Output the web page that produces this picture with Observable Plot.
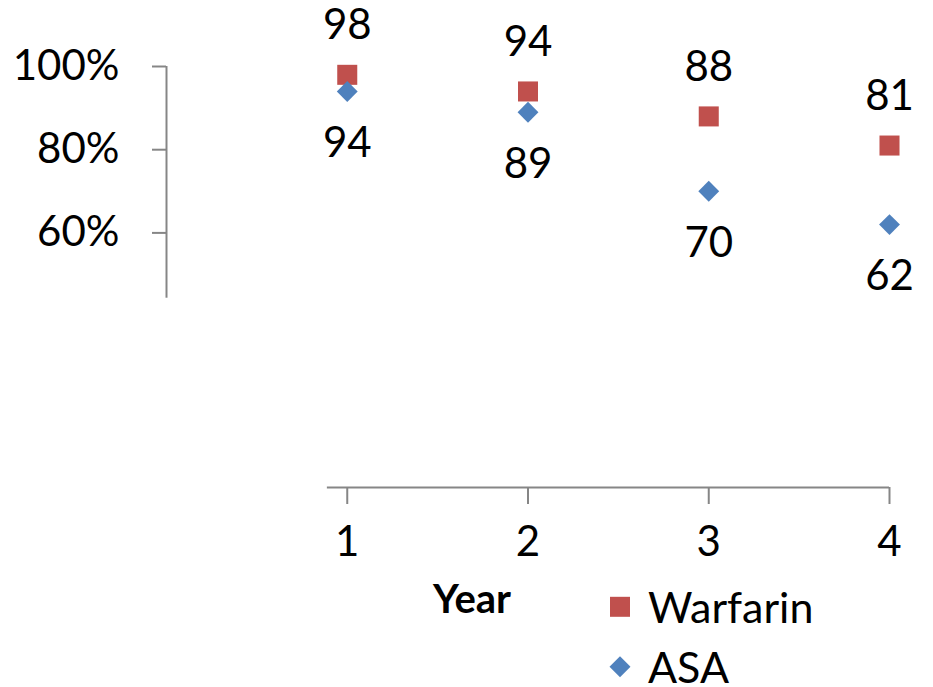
<!DOCTYPE html>
<html>
<head>
<meta charset="utf-8">
<script src="https://cdn.jsdelivr.net/npm/d3@7"></script>
<script src="https://cdn.jsdelivr.net/npm/@observablehq/plot@0.6"></script>
<style>
  html, body { margin: 0; padding: 0; background: #fff; }
  #wrap { position: relative; width: 933px; height: 687px; font-family: Lato, "Open Sans", sans-serif; }
  #wrap svg { display: block; overflow: visible; }
  .ov { position: absolute; line-height: 0.8; white-space: nowrap; color: #000; }
</style>
</head>
<body>
<div id="wrap"></div>
<script>
const years = [1, 2, 3, 4];
const warfarin = [98, 94, 88, 81];
const asa = [94, 89, 70, 62];
const seriesNames = ["Warfarin", "ASA"];
const seriesColors = ["#C0504D", "#4F81BD"];
const seriesSymbols = ["square", "diamond2"];
const yTicks = [0.6, 0.8, 1.0];
const yAxisCut = 0.443;
const xAxisStart = 0.89;
const xTitle = "Year";

const rows = years.flatMap((yr, i) => [
  {year: yr, series: seriesNames[0], value: warfarin[i]},
  {year: yr, series: seriesNames[1], value: asa[i]}
]);
const wRows = rows.filter(d => d.series === seriesNames[0]);
const aRows = rows.filter(d => d.series === seriesNames[1]);

const gray = "#868686";
const fontFamily = "Lato, 'Open Sans', sans-serif";

const chart = Plot.plot({
  width: 933,
  height: 687,
  marginLeft: 166,
  marginRight: 44,
  marginTop: 66,
  marginBottom: 205,
  style: {fontFamily, background: "#fff", color: "#000"},
  x: {domain: [0, 4]},
  y: {domain: [0, 1]},
  marks: [
    Plot.ruleX([0], {y1: yAxisCut, y2: 1, stroke: gray, strokeWidth: 2}),
    Plot.axisY(yTicks, {stroke: gray, strokeWidth: 2, tickSize: 14, tickFormat: () => "", label: null}),
    Plot.axisY(yTicks, {tickSize: 0, tickPadding: 47, fontSize: 42, fill: "#000", tickFormat: d => Math.round(d * 100) + "%", label: null}),
    Plot.ruleY([0], {x1: xAxisStart, x2: 4, stroke: gray, strokeWidth: 2, dy: 5}),
    Plot.axisX(years, {stroke: gray, strokeWidth: 2, tickSize: 17, dy: 5, tickFormat: () => "", label: null}),
    Plot.axisX(years, {tickSize: 0, tickPadding: 44, fontSize: 42, fill: "#000", tickFormat: d => String(d), label: null}),
    Plot.dot(wRows, {x: "year", y: d => d.value / 100, symbol: seriesSymbols[0], r: 11.3, fill: seriesColors[0], stroke: "none"}),
    Plot.dot(aRows, {x: "year", y: d => d.value / 100, symbol: seriesSymbols[1], r: 9.4, fill: seriesColors[1], stroke: "none"}),
    Plot.text(wRows, {x: "year", y: d => d.value / 100, text: d => String(d.value), dy: -49, fontSize: 42, fill: "#000"}),
    Plot.text(aRows, {x: "year", y: d => d.value / 100, text: d => String(d.value), dy: 52, fontSize: 42, fill: "#000"})
  ]
});

const wrap = document.getElementById("wrap");
wrap.appendChild(chart);

// X-axis title
const t = document.createElement("div");
t.className = "ov";
t.textContent = xTitle;
t.style.fontSize = "40px";
t.style.fontWeight = "bold";
t.style.left = "472px";
t.style.top = "598px";
t.style.transform = "translate(-50%, -50%)";
wrap.appendChild(t);

// Legend
const legendTops = [607, 667];
seriesNames.forEach((name, i) => {
  const item = document.createElement("div");
  item.className = "ov";
  item.style.left = "609px";
  item.style.top = legendTops[i] + "px";
  item.style.transform = "translateY(-50%)";
  item.style.display = "flex";
  item.style.alignItems = "center";
  item.style.fontSize = "43px";
  const sym = i === 0 ? d3.symbolSquare : d3.symbolDiamond2;
  const size = i === 0 ? 400 : 280;
  const svgNS = "http://www.w3.org/2000/svg";
  const s = document.createElementNS(svgNS, "svg");
  s.setAttribute("width", 22);
  s.setAttribute("height", 22);
  s.style.marginRight = "17px";
  const p = document.createElementNS(svgNS, "path");
  p.setAttribute("d", d3.symbol(sym, size)());
  p.setAttribute("transform", "translate(11,11)");
  p.setAttribute("fill", seriesColors[i]);
  s.appendChild(p);
  item.appendChild(s);
  const span = document.createElement("span");
  span.textContent = name;
  item.appendChild(span);
  wrap.appendChild(item);
});
</script>
</body>
</html>
